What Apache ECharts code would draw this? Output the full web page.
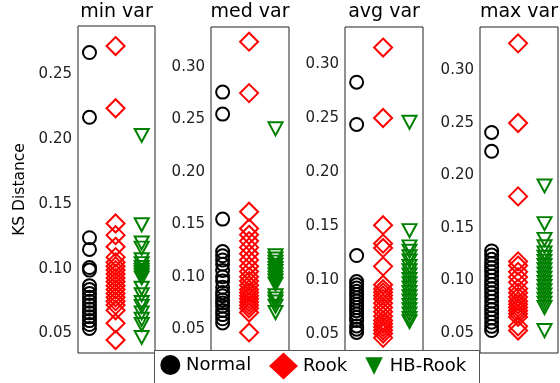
<!DOCTYPE html>
<html>
<head>
<meta charset="utf-8">
<script src="https://cdn.jsdelivr.net/npm/echarts@6/dist/echarts.min.js"></script>
<style>
  html, body { margin: 0; padding: 0; background: #fff; }
  #chart { width: 560px; height: 383px; }
</style>
</head>
<body>
<div id="chart"></div>
<script>
const categories = ['Normal', 'Rook', 'HB-Rook']
const panelTitles = ['min var', 'med var', 'avg var', 'max var']

// KS distance per method, one array per panel
const normalMin = [0.267, 0.217, 0.124, 0.115, 0.101, 0.099, 0.087, 0.084, 0.081, 0.078, 0.075, 0.072, 0.069, 0.066, 0.063, 0.060, 0.057, 0.054]
const rookMin = [0.272, 0.224, 0.135, 0.126, 0.117, 0.109, 0.105, 0.102, 0.099, 0.096, 0.093, 0.090, 0.087, 0.084, 0.081, 0.078, 0.075, 0.072, 0.068, 0.058, 0.045]
const hbRookMin = [0.203, 0.134, 0.120, 0.116, 0.107, 0.104, 0.101, 0.099, 0.097, 0.095, 0.093, 0.085, 0.080, 0.074, 0.071, 0.066, 0.061, 0.057, 0.047]

const normalMed = [0.276, 0.255, 0.155, 0.124, 0.120, 0.116, 0.112, 0.106, 0.100, 0.096, 0.090, 0.085, 0.082, 0.078, 0.075, 0.072, 0.068, 0.064, 0.060, 0.056]
const rookMed = [0.324, 0.275, 0.162, 0.146, 0.140, 0.134, 0.128, 0.122, 0.116, 0.110, 0.105, 0.100, 0.096, 0.092, 0.088, 0.085, 0.082, 0.079, 0.076, 0.073, 0.070, 0.066, 0.047]
const hbRookMed = [0.241, 0.120, 0.117, 0.114, 0.111, 0.108, 0.105, 0.102, 0.099, 0.096, 0.093, 0.082, 0.079, 0.076, 0.072, 0.066]

const normalAvg = [0.283, 0.244, 0.123, 0.099, 0.096, 0.093, 0.090, 0.087, 0.084, 0.081, 0.078, 0.075, 0.072, 0.069, 0.066, 0.063, 0.058, 0.055, 0.052]
const rookAvg = [0.315, 0.250, 0.151, 0.134, 0.130, 0.113, 0.096, 0.092, 0.089, 0.086, 0.083, 0.079, 0.075, 0.071, 0.067, 0.063, 0.060, 0.057, 0.054, 0.051, 0.047]
const hbRookAvg = [0.246, 0.146, 0.131, 0.127, 0.122, 0.118, 0.113, 0.109, 0.105, 0.101, 0.097, 0.093, 0.089, 0.085, 0.081, 0.077, 0.073, 0.069, 0.065, 0.062]

const normalMax = [0.241, 0.223, 0.128, 0.124, 0.120, 0.116, 0.112, 0.108, 0.104, 0.100, 0.096, 0.092, 0.088, 0.084, 0.080, 0.076, 0.072, 0.068, 0.064, 0.060, 0.056, 0.052]
const rookMax = [0.326, 0.250, 0.180, 0.118, 0.114, 0.108, 0.103, 0.098, 0.092, 0.088, 0.084, 0.080, 0.077, 0.074, 0.071, 0.068, 0.065, 0.056, 0.052]
const hbRookMax = [0.190, 0.154, 0.139, 0.132, 0.126, 0.122, 0.118, 0.114, 0.110, 0.106, 0.102, 0.098, 0.094, 0.090, 0.086, 0.082, 0.078, 0.074, 0.052]

const panelData = [
  [normalMin, rookMin, hbRookMin],
  [normalMed, rookMed, hbRookMed],
  [normalAvg, rookAvg, hbRookAvg],
  [normalMax, rookMax, hbRookMax],
]

const yTickLabels = [
  [0.05, 0.10, 0.15, 0.20, 0.25],
  [0.05, 0.10, 0.15, 0.20, 0.25, 0.30],
  [0.05, 0.10, 0.15, 0.20, 0.25, 0.30],
  [0.05, 0.10, 0.15, 0.20, 0.25, 0.30],
]

// layout
const font = 'DejaVu Sans'
const grids = [
  { left: 78, top: 26, width: 77, height: 327 },
  { left: 211, top: 27, width: 78, height: 326 },
  { left: 345, top: 27, width: 78, height: 326 },
  { left: 480, top: 27, width: 78, height: 326 },
]
const yRanges = [[0.035, 0.2875], [0.0274, 0.338], [0.033, 0.334], [0.0306, 0.3416]]

const triDown = 'path://M0,0L20,0L10,20Z'
const markers = [
  { symbol: 'circle', size: 13, color: '#000000' },
  { symbol: 'diamond', size: 18, color: '#ff0000' },
  { symbol: triDown, size: [14, 13], color: '#008000' },
]

const series = []
panelData.forEach((groups, p) => {
  groups.forEach((vals, c) => {
    const m = markers[c]
    series.push({
      name: categories[c],
      type: 'scatter',
      xAxisIndex: p,
      yAxisIndex: p,
      symbol: m.symbol,
      symbolSize: m.size,
      silent: true,
      itemStyle: { color: 'rgba(0,0,0,0)', borderColor: m.color, borderWidth: 2, opacity: 1 },
      data: vals.map(v => [c, v]),
    })
  })
})

const chart = echarts.init(document.getElementById('chart'), null, { renderer: 'canvas' })
chart.setOption({
  backgroundColor: '#fff',
  animation: false,
  title: grids.map((g, i) => ({
    text: panelTitles[i],
    left: g.left + g.width / 2,
    top: 3,
    textAlign: 'center',
    padding: 0,
    textStyle: { fontFamily: font, fontSize: 19, fontWeight: 'normal', color: '#000' },
  })),
  grid: grids.map(g => ({ ...g, show: true, borderColor: '#222', borderWidth: 1, backgroundColor: '#fff' })),
  xAxis: grids.map((g, i) => ({
    gridIndex: i,
    type: 'value',
    min: -0.44,
    max: 2.51,
    show: false,
  })),
  yAxis: grids.map((g, i) => ({
    gridIndex: i,
    type: 'value',
    min: yRanges[i][0],
    max: yRanges[i][1],
    name: i === 0 ? 'KS Distance' : '',
    nameLocation: 'middle',
    nameRotate: 90,
    nameGap: 50,
    nameTextStyle: { fontFamily: font, fontSize: 15.5, color: '#000' },
    axisLine: { show: false },
    axisTick: { show: false },
    splitLine: { show: false },
    axisLabel: {
      customValues: yTickLabels[i],
      formatter: v => v.toFixed(2),
      margin: 6,
      fontFamily: font,
      fontSize: 15,
      color: '#222',
    },
  })),
  graphic: [{
    type: 'rect',
    z: 50,
    shape: { x: 154.5, y: 350.5, width: 325, height: 40 },
    style: { fill: '#fff', stroke: '#555', lineWidth: 1 },
  }],
  legend: [
    { left: 160.3, top: 355, itemW: 21.4, itemH: 20, name: 'Normal', icon: 'circle', color: '#000' },
    { left: 269, top: 352.5, itemW: 29, itemH: 27, name: 'Rook', icon: 'diamond', color: '#ff0000' },
    { left: 365.3, top: 357, itemW: 21.4, itemH: 17.5, name: 'HB-Rook', icon: triDown, color: '#008000' },
  ].map(l => ({
    left: l.left,
    top: l.top,
    padding: 0,
    z: 100,
    itemWidth: l.itemW,
    itemHeight: l.itemH,
    selectedMode: false,
    textStyle: { fontFamily: font, fontSize: 18, color: '#000' },
    data: [{ name: l.name, icon: l.icon, itemStyle: { color: l.color, borderWidth: 0 } }],
  })),
  series: series,
})
</script>
</body>
</html>
